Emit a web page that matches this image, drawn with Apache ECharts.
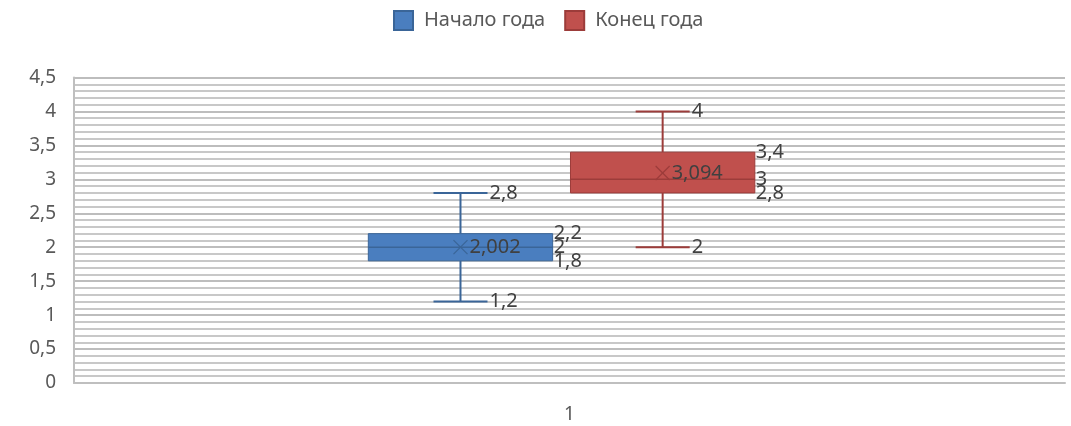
<!DOCTYPE html>
<html>
<head>
<meta charset="utf-8">
<script src="https://cdn.jsdelivr.net/npm/echarts@6/dist/echarts.min.js"></script>
<style>
html,body{margin:0;padding:0;background:#fff;}
#chart{width:1071px;height:426px;}
</style>
</head>
<body>
<div id="chart"></div>
<script>
// ---- Data ----
const categories = ['1'];
const seriesNames = ['Начало года', 'Конец года'];
// [min, Q1, median, Q3, max, mean]
const startMin = [1.2];
const startQ1 = [1.8];
const startMedian = [2];
const startQ3 = [2.2];
const startMax = [2.8];
const startMean = [2.002];

const endMin = [2];
const endQ1 = [2.8];
const endMedian = [3];
const endQ3 = [3.4];
const endMax = [4];
const endMean = [3.094];

const yTicks = { min: 0, max: 4.5, interval: 0.5 };

// ---- Helpers ----
function fmt(v) { return String(v).replace('.', ','); }
function rows(mn, q1, md, q3, mx, mean) {
  return categories.map((c, i) => [i, mn[i], q1[i], md[i], q3[i], mx[i], mean[i]]);
}

const FONT = '"Noto Sans", "Open Sans", sans-serif';
const LABEL_FONT = '20px ' + FONT;
const LABEL_COLOR = '#404040';

function makeRender(offsetFrac, fill, stroke) {
  const boxFrac = 0.186;
  const capFrac = 0.0545;
  return function (params, api) {
    const cat = api.value(0);
    const mn = api.value(1), q1 = api.value(2), md = api.value(3),
          q3 = api.value(4), mx = api.value(5), mean = api.value(6);
    const band = api.size([1, 0])[0];
    const cx = api.coord([cat, 0])[0] + offsetFrac * band;
    const w = boxFrac * band;
    const capHalf = capFrac * band / 2;
    const y = v => api.coord([cat, v])[1];
    const left = cx - w / 2, right = cx + w / 2;
    const lineStyle = { stroke: stroke, lineWidth: 2, fill: null };
    const children = [];
    // whiskers
    children.push({ type: 'line', shape: { x1: cx, y1: y(mx), x2: cx, y2: y(q3) }, style: lineStyle });
    children.push({ type: 'line', shape: { x1: cx, y1: y(q1), x2: cx, y2: y(mn) }, style: lineStyle });
    children.push({ type: 'line', shape: { x1: cx - capHalf, y1: y(mx), x2: cx + capHalf, y2: y(mx) }, style: lineStyle });
    children.push({ type: 'line', shape: { x1: cx - capHalf, y1: y(mn), x2: cx + capHalf, y2: y(mn) }, style: lineStyle });
    // box
    children.push({ type: 'rect', shape: { x: left, y: y(q3), width: w, height: y(q1) - y(q3) },
      style: { fill: fill, stroke: stroke, lineWidth: 1 } });
    // median
    children.push({ type: 'line', shape: { x1: left, y1: y(md), x2: right, y2: y(md) }, style: { stroke: stroke, lineWidth: 1.5 } });
    // mean marker (x)
    const my = y(mean), s = 7;
    children.push({ type: 'line', shape: { x1: cx - s, y1: my - s, x2: cx + s, y2: my + s }, style: { stroke: stroke, lineWidth: 1.2 } });
    children.push({ type: 'line', shape: { x1: cx - s, y1: my + s, x2: cx + s, y2: my - s }, style: { stroke: stroke, lineWidth: 1.2 } });
    // labels
    const txt = (t, x, yy) => ({ type: 'text', style: { text: t, x: x, y: yy, fill: LABEL_COLOR, font: LABEL_FONT, align: 'left', verticalAlign: 'middle' } });
    children.push(txt(fmt(mx), cx + capHalf + 2, y(mx)));
    children.push(txt(fmt(mn), cx + capHalf + 2, y(mn)));
    children.push(txt(fmt(q3), right + 1, y(q3)));
    children.push(txt(fmt(md), right + 1, y(md)));
    children.push(txt(fmt(q1), right + 1, y(q1)));
    children.push(txt(fmt(mean), cx + 9, my));
    return { type: 'group', children: children };
  };
}

const chart = echarts.init(document.getElementById('chart'));
const option = {
  animation: false,
  backgroundColor: '#fff',
  legend: {
    top: 5,
    left: 388,
    itemWidth: 19,
    itemHeight: 19,
    itemGap: 19,
    icon: 'rect',
    textStyle: { fontFamily: FONT, fontSize: 20, color: '#595959', padding: [0, 0, 0, 6] },
    data: seriesNames
  },
  grid: { left: 74, right: 6, top: 77.5, bottom: 43, containLabel: false },
  xAxis: {
    type: 'category',
    data: categories,
    axisLine: { show: true, lineStyle: { color: '#bfbfbf', width: 2 } },
    axisTick: { show: false },
    splitLine: { show: false },
    axisLabel: { margin: 22, fontFamily: FONT, fontSize: 19, color: '#595959' }
  },
  yAxis: {
    type: 'value',
    min: yTicks.min,
    max: yTicks.max,
    interval: yTicks.interval,
    axisLine: { show: true, lineStyle: { color: '#bfbfbf', width: 2 } },
    axisTick: { show: false },
    axisLabel: { margin: 18, fontFamily: FONT, fontSize: 19, color: '#595959', formatter: v => fmt(v) },
    splitLine: { show: true, lineStyle: { color: '#bdbdbd', width: 2 } },
    minorTick: { show: false, splitNumber: 5 },
    minorSplitLine: { show: true, lineStyle: { color: '#c8c8c8', width: 2 } }
  },
  series: [
    {
      name: seriesNames[0],
      type: 'custom',
      renderItem: makeRender(-0.110, '#4a7ebf', '#3a6598'),
      itemStyle: { color: '#4a7ebf', borderColor: '#3a6598', borderWidth: 1 },
      encode: { x: 0, y: [1, 2, 3, 4, 5, 6] },
      data: rows(startMin, startQ1, startMedian, startQ3, startMax, startMean)
    },
    {
      name: seriesNames[1],
      type: 'custom',
      renderItem: makeRender(0.094, '#c0504d', '#9c3c3a'),
      itemStyle: { color: '#c0504d', borderColor: '#9c3c3a', borderWidth: 1 },
      encode: { x: 0, y: [1, 2, 3, 4, 5, 6] },
      data: rows(endMin, endQ1, endMedian, endQ3, endMax, endMean)
    }
  ]
};
chart.setOption(option);
</script>
</body>
</html>
